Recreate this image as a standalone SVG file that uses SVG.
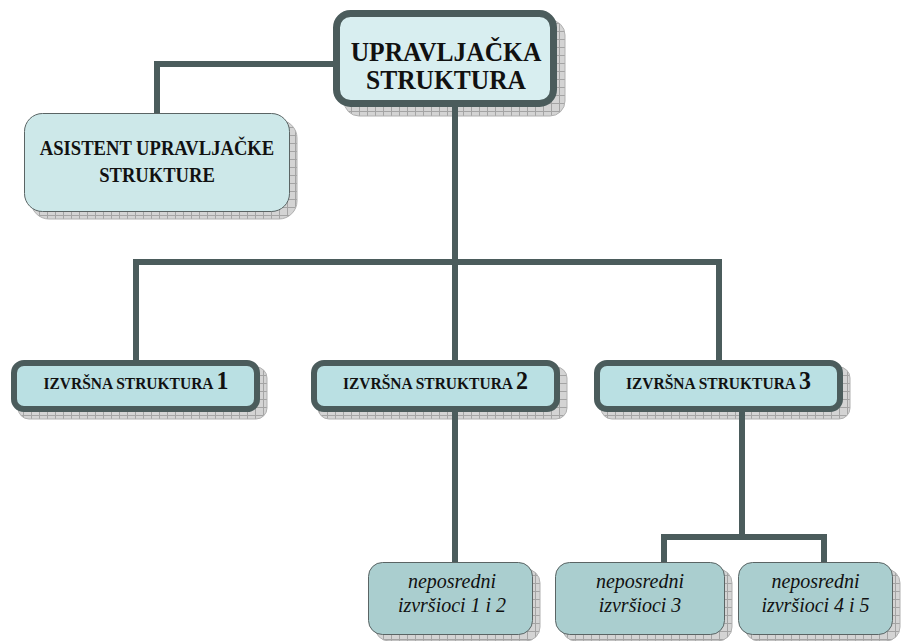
<svg xmlns="http://www.w3.org/2000/svg" width="906" height="641" viewBox="0 0 906 641">
<defs>
<pattern id="hatch" width="8" height="8" patternUnits="userSpaceOnUse">
<rect width="8" height="8" fill="#d4d4d4"/>
<path d="M7.5 0V8M0 7.5H8" stroke="#a4a4a4" stroke-width="1"/>
</pattern>
<style>
.shadow{fill:url(#hatch);stroke:#b0b0b0;stroke-width:1}
.top{fill:#d8eef0;stroke:#4b5c5c;stroke-width:7}
.asist{fill:#cde8e9;stroke:#5a6464;stroke-width:1}
.izv{fill:#bae0e3;stroke:#4b5c5c;stroke-width:6}
.nep{fill:#aacecf;stroke:#5a6464;stroke-width:1}
.conn{fill:none;stroke:#4b5c5c;stroke-width:6;stroke-linejoin:miter}
text{font-family:"Liberation Serif","Times New Roman",serif;fill:#111;text-anchor:middle}
.b{font-weight:bold}
.it{font-style:italic;font-size:20px}
</style>
</defs>
<rect width="906" height="641" fill="#fff"/>

<g id="upravljacka">
<rect class="shadow" x="344" y="20" width="221" height="96" rx="15"/>
<rect class="top" x="336.5" y="13.5" width="217" height="90" rx="14"/>
<text class="b" font-size="25.5" transform="translate(446,61) scale(1,1.08)">UPRAVLJAČKA</text>
<text class="b" font-size="25.5" transform="translate(446,89) scale(1,1.08)">STRUKTURA</text>
</g>

<g id="asistent">
<rect class="shadow" x="31" y="120" width="266" height="99" rx="18"/>
<rect class="asist" x="24.5" y="113.5" width="265" height="98" rx="18"/>
<text class="b" font-size="18.6" transform="translate(157,155) scale(1,1.1)">ASISTENT UPRAVLJAČKE</text>
<text class="b" font-size="18.6" transform="translate(157,182) scale(1,1.1)">STRUKTURE</text>
</g>

<g id="izvrsna1">
<rect class="shadow" x="18" y="367" width="249" height="52" rx="11"/>
<rect class="izv" x="14" y="363" width="243" height="46" rx="10"/>
<text class="b" font-size="15.5" transform="translate(136,389) scale(1,1.08)">IZVRŠNA STRUKTURA <tspan font-size="24">1</tspan></text>
</g>

<g id="izvrsna2">
<rect class="shadow" x="318" y="367" width="249" height="52" rx="11"/>
<rect class="izv" x="314" y="363" width="243" height="46" rx="10"/>
<text class="b" font-size="15.5" transform="translate(435.5,389) scale(1,1.08)">IZVRŠNA STRUKTURA <tspan font-size="24">2</tspan></text>
</g>

<g id="izvrsna3">
<rect class="shadow" x="601" y="367" width="249" height="52" rx="11"/>
<rect class="izv" x="597" y="363" width="243" height="46" rx="10"/>
<text class="b" font-size="15.5" transform="translate(718.5,389) scale(1,1.08)">IZVRŠNA STRUKTURA <tspan font-size="24">3</tspan></text>
</g>

<g id="neposredni12">
<rect class="shadow" x="375" y="569" width="165" height="72" rx="14"/>
<rect class="nep" x="368.5" y="562.5" width="164" height="72" rx="14"/>
<text class="it" transform="translate(452,588) scale(1,1.08)">neposredni</text>
<text class="it" transform="translate(452,612) scale(1,1.08)">izvršioci 1 i 2</text>
</g>

<g id="neposredni3">
<rect class="shadow" x="562" y="569" width="170" height="72" rx="14"/>
<rect class="nep" x="555.5" y="562.5" width="169" height="72" rx="14"/>
<text class="it" transform="translate(640,588) scale(1,1.08)">neposredni</text>
<text class="it" transform="translate(640,612) scale(1,1.08)">izvršioci 3</text>
</g>

<g id="neposredni45">
<rect class="shadow" x="745" y="569" width="155" height="72" rx="14"/>
<rect class="nep" x="738.5" y="562.5" width="154" height="72" rx="14"/>
<text class="it" transform="translate(815.5,588) scale(1,1.08)">neposredni</text>
<text class="it" transform="translate(815.5,612) scale(1,1.08)">izvršioci 4 i 5</text>
</g>

<g id="connectors">
<path class="conn" d="M333 64H157V113"/>
<path class="conn" d="M455 107V360"/>
<path class="conn" d="M136 360V262H719V360"/>
<path class="conn" d="M455 412V562"/>
<path class="conn" d="M742 412V537"/>
<path class="conn" d="M664 562V537H824V562"/>
</g>
</svg>
